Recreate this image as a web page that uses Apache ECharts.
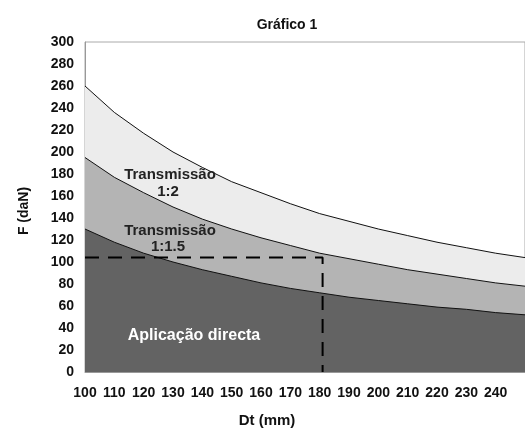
<!DOCTYPE html>
<html><head><meta charset="utf-8">
<script src="https://cdn.jsdelivr.net/npm/echarts@6/dist/echarts.min.js"></script>
<style>html,body{margin:0;padding:0;background:#fff}#c{width:525px;height:430px}</style>
</head><body><div id="c"></div>
<script>
const dt = [100,110,120,130,140,150,160,170,180,190,200,210,220,230,240,250];
const transmissao12 = [260,236,217,200,186,173,163,153,144,137,130,124,118,113,108,104];
const transmissao115 = [195,177,163,150,139,130,122,115,108,103,98,93,89,85,81,78];
const aplicacaoDirecta = [130,118,108,100,93,87,81,76,72,68,65,62,59,57,54,52];
const guideX = [100,181,181];
const guideY = [104,104,0];
const yTicks = [0,20,40,60,80,100,120,140,160,180,200,220,240,260,280,300];

const pairs = (xs, ys) => xs.map((x,i)=>[x, ys[i]]);
const FONT = 'Liberation Sans';

function area(name, vals, fill){
  return {name, type:'line', data:pairs(dt, vals), symbol:'none', smooth:false,
    lineStyle:{color:'#111', width:1}, areaStyle:{color:fill, opacity:1, origin:'start'}, silent:true};
}
function txt(t, x, y, font, fill){
  return {type:'text', z:100, zlevel:1, position:[x,y],
    style:{text:t, font:font, fill:fill, textAlign:'center', textVerticalAlign:'middle'}};
}

const chart = echarts.init(document.getElementById('c'), null, {renderer:'canvas'});
chart.setOption({
  animation:false,
  grid:{left:85, right:-8, top:42, bottom:58, show:true, borderColor:'#aaa', borderWidth:1, backgroundColor:'#fff'},
  xAxis:{type:'value', min:100, max:250, interval:10,
    axisLine:{show:true, lineStyle:{color:'#999'}}, axisTick:{show:false}, splitLine:{show:false},
    axisLabel:{color:'#111', fontFamily:FONT, fontSize:14, fontWeight:'bold', margin:14, showMaxLabel:false}},
  yAxis:{type:'value', min:0, max:300, interval:20,
    axisLine:{show:true, lineStyle:{color:'#999'}}, axisTick:{show:false}, splitLine:{show:false},
    axisLabel:{color:'#111', fontFamily:FONT, fontSize:14, fontWeight:'bold', margin:11,
      formatter:v=>yTicks.includes(v)?String(v):''}},
  series:[
    area('Transmissão 1:2', transmissao12, '#ececec'),
    area('Transmissão 1:1.5', transmissao115, '#b4b4b4'),
    area('Aplicação directa', aplicacaoDirecta, '#636363'),
    {type:'line', data:pairs(guideX, guideY), symbol:'none', silent:true, z:5,
      lineStyle:{color:'#000', width:2, type:[14,9]}}
  ],
  graphic:[
    txt('Gráfico 1', 287, 25, 'bold 14px '+FONT, '#111'),
    txt('Transmissão', 170, 175, 'bold 15px '+FONT, '#222'),
    txt('1:2', 168, 192, 'bold 15px '+FONT, '#222'),
    txt('Transmissão', 170, 231, 'bold 15px '+FONT, '#222'),
    txt('1:1.5', 168, 247, 'bold 15px '+FONT, '#222'),
    txt('Aplicação directa', 194, 336, 'bold 16px '+FONT, '#fff'),
    txt('Dt (mm)', 267, 421, 'bold 15px '+FONT, '#111'),
    Object.assign(txt('F (daN)', 24, 211, 'bold 14px '+FONT, '#111'), {rotation:Math.PI/2})
  ]
});
</script></body></html>
